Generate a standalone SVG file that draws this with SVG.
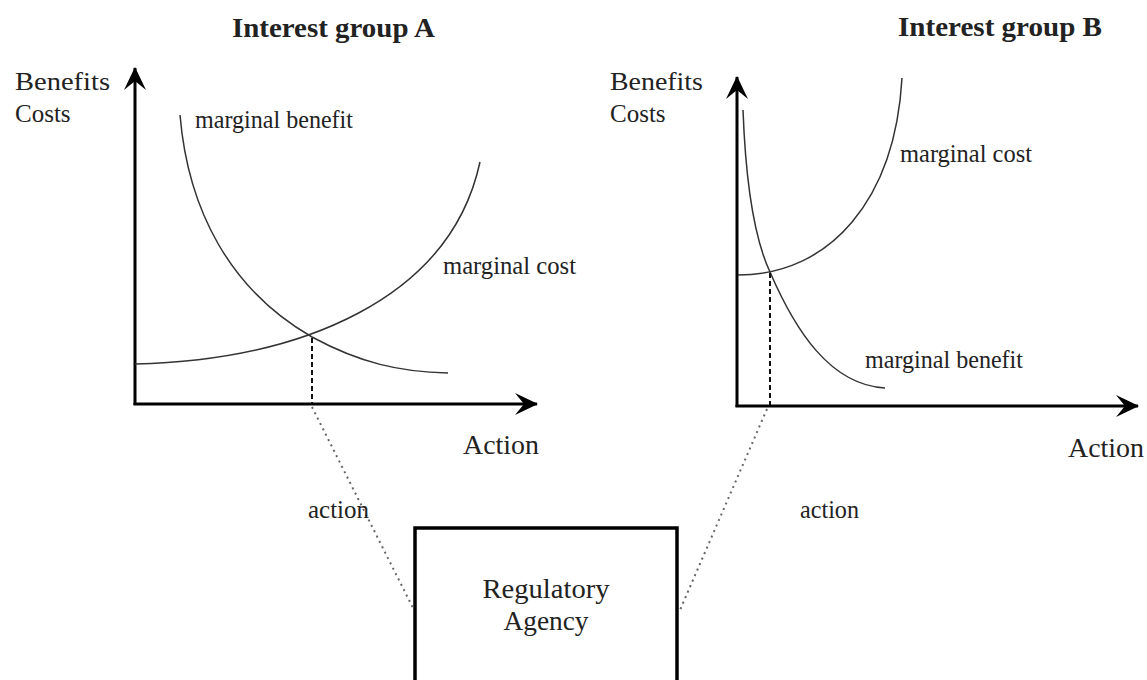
<svg xmlns="http://www.w3.org/2000/svg" width="1147" height="680" viewBox="0 0 1147 680">
  <style>
    text { font-family: "Liberation Serif", "Times New Roman", serif; fill: #222; }
    .title { font-size: 28px; font-weight: bold; }
    .lbl { font-size: 25px; }
    .big { font-size: 27px; }
    .axis { stroke: #000; stroke-width: 3; fill: none; }
    .curve { stroke: #333; stroke-width: 1.5; fill: none; }
    .dash { stroke: #111; stroke-width: 2; stroke-dasharray: 5 3; fill: none; }
    .dot { stroke: #666; stroke-width: 2; stroke-dasharray: 2 4; fill: none; }
    .box { stroke: #000; stroke-width: 3.5; fill: #fff; }
  </style>
  <defs>
    <marker id="ah" viewBox="0 0 24 24" refX="22" refY="12" markerWidth="24" markerHeight="24" markerUnits="userSpaceOnUse" orient="auto">
      <path d="M0,1 L23,12 L0,23 L9,12 Z" fill="#000"/>
    </marker>
  </defs>
  <rect width="1147" height="680" fill="#fff"/>

  <g id="chart-a">
    <text class="title" x="232" y="37" textLength="203" lengthAdjust="spacingAndGlyphs">Interest group A</text>
    <text class="lbl" x="15" y="90" textLength="95" lengthAdjust="spacingAndGlyphs">Benefits</text>
    <text class="lbl" x="15" y="122">Costs</text>
    <line class="axis" x1="135" y1="405" x2="135" y2="68" marker-end="url(#ah)"/>
    <line class="axis" x1="133.5" y1="404" x2="537" y2="404" marker-end="url(#ah)"/>
    <path class="curve" d="M180,115 C188,210 230,290 312,337 C360,363 400,372 448,373"/>
    <path class="curve" d="M135,364 C300,360 450,300 480,162"/>
    <text class="lbl" x="195" y="128" textLength="158" lengthAdjust="spacingAndGlyphs">marginal benefit</text>
    <text class="lbl" x="443" y="274" textLength="133" lengthAdjust="spacingAndGlyphs">marginal cost</text>
    <text class="big" x="463" y="454" textLength="76" lengthAdjust="spacingAndGlyphs">Action</text>
    <line class="dash" x1="312" y1="338" x2="312" y2="403"/>
  </g>

  <g id="chart-b">
    <text class="title" x="898" y="36" textLength="204" lengthAdjust="spacingAndGlyphs">Interest group B</text>
    <text class="lbl" x="610" y="90" textLength="93" lengthAdjust="spacingAndGlyphs">Benefits</text>
    <text class="lbl" x="610" y="122">Costs</text>
    <line class="axis" x1="737" y1="407" x2="737" y2="77" marker-end="url(#ah)"/>
    <line class="axis" x1="735.5" y1="406" x2="1138" y2="406" marker-end="url(#ah)"/>
    <path class="curve" d="M738,275 C830,275 895,200 902,78"/>
    <path class="curve" d="M743,110 C746,190 755,240 770,272 C795,330 830,385 885,388"/>
    <text class="lbl" x="900" y="162" textLength="132" lengthAdjust="spacingAndGlyphs">marginal cost</text>
    <text class="lbl" x="865" y="368" textLength="158" lengthAdjust="spacingAndGlyphs">marginal benefit</text>
    <text class="big" x="1068" y="457" textLength="76" lengthAdjust="spacingAndGlyphs">Action</text>
    <line class="dash" x1="770" y1="273" x2="770" y2="405"/>
  </g>

  <g id="agency">
    <rect class="box" x="415" y="528" width="262" height="180"/>
    <text class="big" x="546" y="598" text-anchor="middle" textLength="127" lengthAdjust="spacingAndGlyphs">Regulatory</text>
    <text class="big" x="546" y="630" text-anchor="middle" textLength="85" lengthAdjust="spacingAndGlyphs">Agency</text>
  </g>

  <g id="connectors">
    <line class="dot" x1="312" y1="407" x2="413" y2="608"/>
    <line class="dot" x1="767" y1="409" x2="680" y2="610"/>
    <text class="lbl" x="308" y="518" textLength="61" lengthAdjust="spacingAndGlyphs">action</text>
    <text class="lbl" x="800" y="518" textLength="59" lengthAdjust="spacingAndGlyphs">action</text>
  </g>
</svg>
